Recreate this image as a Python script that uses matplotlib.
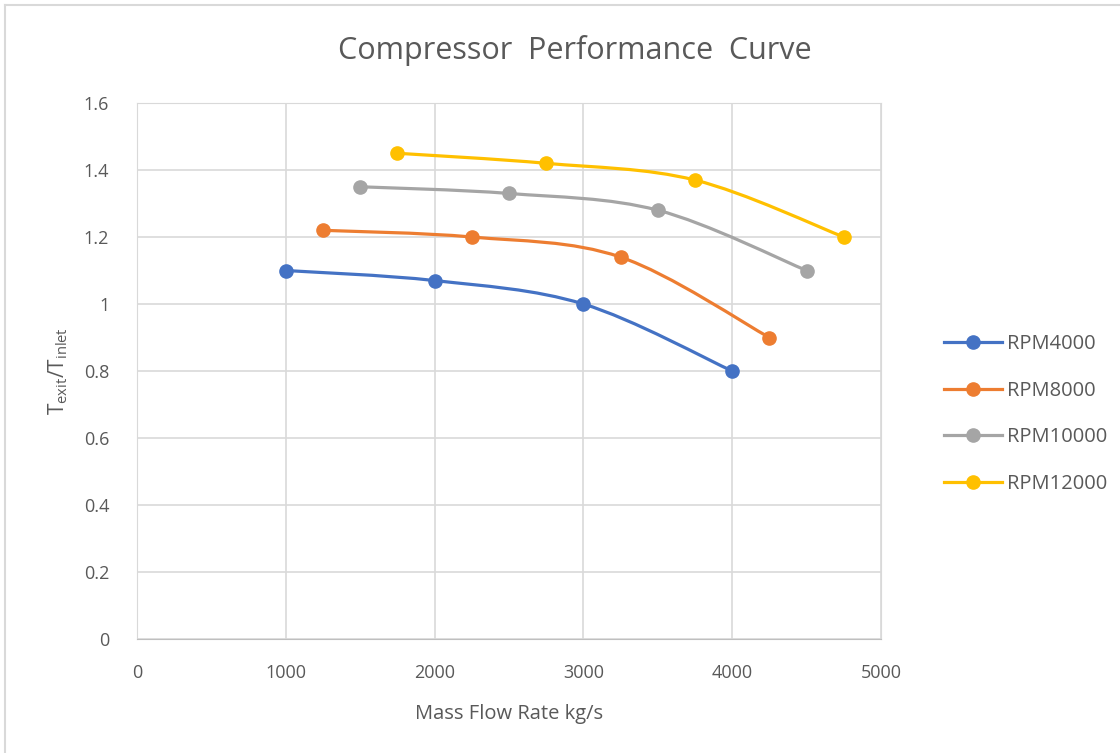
import matplotlib.pyplot as plt
from matplotlib.path import Path
from matplotlib.patches import PathPatch
from matplotlib.lines import Line2D
import numpy as np

# data
flow_4000 = [1000, 2000, 3000, 4000]
ratio_4000 = [1.10, 1.07, 1.00, 0.80]
flow_8000 = [1250, 2250, 3250, 4250]
ratio_8000 = [1.22, 1.20, 1.14, 0.90]
flow_10000 = [1500, 2500, 3500, 4500]
ratio_10000 = [1.35, 1.33, 1.28, 1.10]
flow_12000 = [1750, 2750, 3750, 4750]
ratio_12000 = [1.45, 1.42, 1.37, 1.20]

series_names = ['RPM4000', 'RPM8000', 'RPM10000', 'RPM12000']
colors = ['#4472C4', '#ED7D31', '#A5A5A5', '#FFC000']
x_ticks = [0, 1000, 2000, 3000, 4000, 5000]
y_ticks = [0, 0.2, 0.4, 0.6, 0.8, 1.0, 1.2, 1.4, 1.6]
y_tick_labels = ['0', '0.2', '0.4', '0.6', '0.8', '1', '1.2', '1.4', '1.6']

plt.rcParams['font.family'] = ['Open Sans', 'DejaVu Sans']
text_color = '#595959'


def smooth_path(x, y):
    # Excel-like smoothed line: Catmull-Rom turned into cubic Bezier segments
    pts = np.column_stack([x, y]).astype(float)
    n = len(pts)
    verts = [pts[0]]
    codes = [Path.MOVETO]
    for i in range(n - 1):
        p0 = pts[i - 1] if i > 0 else pts[i]
        p1 = pts[i]
        p2 = pts[i + 1]
        p3 = pts[i + 2] if i + 2 < n else pts[i + 1]
        c1 = p1 + (p2 - p0) / 6.0
        c2 = p2 - (p3 - p1) / 6.0
        verts += [c1, c2, p2]
        codes += [Path.CURVE4] * 3
    return Path(verts, codes)


fig = plt.figure(figsize=(11.2, 7.53), dpi=100)
ax = fig.add_axes([0.1223, 0.1514, 0.6643, 0.7118])

all_x = [flow_4000, flow_8000, flow_10000, flow_12000]
all_y = [ratio_4000, ratio_8000, ratio_10000, ratio_12000]
handles = []
for xs, ys, c, name in zip(all_x, all_y, colors, series_names):
    ax.add_patch(PathPatch(smooth_path(xs, ys), facecolor='none', edgecolor=c,
                           linewidth=2.3, zorder=3, capstyle='round'))
    ax.plot(xs, ys, linestyle='none', marker='o', markersize=9.5, color=c, zorder=4)
    handles.append(Line2D([], [], color=c, linewidth=2.3, marker='o', markersize=9.5, label=name))

ax.set_xlim(0, 5000)
ax.set_ylim(0, 1.6)
ax.set_xticks(x_ticks)
ax.set_yticks(y_ticks)
ax.set_yticklabels(y_tick_labels)
ax.tick_params(axis='x', length=0, labelsize=13, colors=text_color, pad=18)
ax.tick_params(axis='y', length=0, labelsize=13, colors=text_color, pad=20)
ax.grid(True, color='#D9D9D9', linewidth=1.2)
ax.set_axisbelow(True)
for s in ['top', 'right', 'left']:
    ax.spines[s].set_color('#D9D9D9')
ax.spines['bottom'].set_color('#BFBFBF')

fig.text(0.513, 1 - 50 / 753, 'Compressor  Performance  Curve', fontsize=22,
         color=text_color, ha='center', va='center')
ax.set_xlabel('Mass Flow Rate kg/s', fontsize=14.5, color=text_color, labelpad=16)
ax.set_ylabel(r'T$_{\mathregular{exit}}$/T$_{\mathregular{inlet}}$', fontsize=15,
              color=text_color, labelpad=10)

leg = ax.legend(handles=handles, loc='center left', bbox_to_anchor=(1.06, 0.42),
                frameon=False, fontsize=14.5, labelspacing=1.32, handlelength=2.9,
                handletextpad=0.25)
for t in leg.get_texts():
    t.set_color(text_color)

# light chart-area border
fig.add_artist(Line2D([5 / 1120, 5 / 1120], [0, 1 - 5 / 753], color='#D9D9D9', linewidth=1.5))
fig.add_artist(Line2D([5 / 1120, 1], [1 - 5 / 753, 1 - 5 / 753], color='#D9D9D9', linewidth=1.5))

fig.savefig('out.png', dpi=100)
